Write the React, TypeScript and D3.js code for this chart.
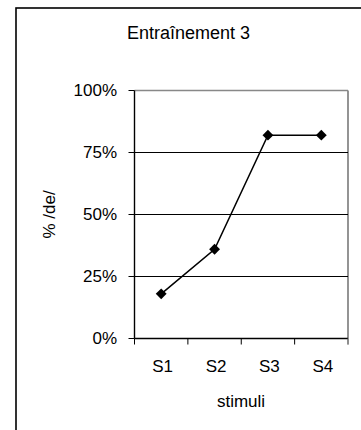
import React from "react";
import * as d3 from "d3";

const categories = ["S1", "S2", "S3", "S4"];
const values = [18, 36, 82, 82];
const yTicks = [0, 25, 50, 75, 100];
const title = "Entraînement 3";
const xTitle = "stimuli";
const yTitle = "% /de/";

export default function App() {
  const W = 361, H = 430;
  const left = 134.5, right = 348, top = 90.5, bottom = 338.5;
  const x = d3.scaleBand<string>().domain(categories).range([left, right]);
  const y = d3.scaleLinear().domain([0, 100]).range([bottom, top]);
  const line = d3
    .line<number>()
    .x((_, i) => (x(categories[i]) as number) + x.bandwidth() / 2)
    .y((d) => y(d));
  const diamond = d3.symbol().type(d3.symbolDiamond2).size(75)();
  const font = "Arial, 'Liberation Sans', sans-serif";
  const xEdges = [left, ...categories.map((c) => (x(c) as number) + x.bandwidth())];
  return (
    <svg
      width={W}
      height={H}
      style={{ position: "absolute", left: 0, top: 0, background: "#fff" }}
      fontFamily={font}
    >
      <rect x={16} y={8} width={400} height={500} fill="#fff" stroke="#000" strokeWidth={1.6} />
      <text x={188.5} y={39} fontSize={18} textAnchor="middle" fill="#000">
        {title}
      </text>
      <line x1={left} x2={right} y1={top} y2={top} stroke="#888" strokeWidth={1.6} />
      <line x1={right} x2={right} y1={top} y2={bottom + 6} stroke="#888" strokeWidth={1.8} />
      {yTicks
        .filter((t) => t > 0 && t < 100)
        .map((t) => (
          <line key={"g" + t} x1={left} x2={right} y1={y(t)} y2={y(t)} stroke="#000" strokeWidth={1} />
        ))}
      <line x1={left} x2={left} y1={top} y2={bottom} stroke="#000" strokeWidth={1.4} />
      {yTicks.map((t) => (
        <g key={"t" + t}>
          <line x1={left - 6} x2={left} y1={y(t)} y2={y(t)} stroke="#000" strokeWidth={1} />
          <text x={117} y={y(t)} dy="0.35em" fontSize={17} textAnchor="end" fill="#000">
            {t + "%"}
          </text>
        </g>
      ))}
      <line x1={left} x2={right} y1={bottom} y2={bottom} stroke="#000" strokeWidth={1.4} />
      {xEdges.map((e, i) => (
        <line key={"xt" + i} x1={e} x2={e} y1={bottom} y2={bottom + 6} stroke={i === xEdges.length - 1 ? "#888" : "#000"} strokeWidth={1} />
      ))}
      {categories.map((c) => (
        <text key={c} x={(x(c) as number) + x.bandwidth() / 2 + 1.5} y={371.5} fontSize={17} textAnchor="middle" fill="#000">
          {c}
        </text>
      ))}
      <text x={241} y={406.5} fontSize={17} textAnchor="middle" fill="#000">
        {xTitle}
      </text>
      <text
        transform={`translate(54.5,${(top + bottom) / 2}) rotate(-90)`}
        fontSize={17}
        textAnchor="middle"
        fill="#000"
      >
        {yTitle}
      </text>
      <path d={line(values) || ""} fill="none" stroke="#000" strokeWidth={1.5} />
      {values.map((v, i) => (
        <path
          key={"m" + i}
          d={diamond || ""}
          transform={`translate(${(x(categories[i]) as number) + x.bandwidth() / 2},${y(v)})`}
          fill="#000"
        />
      ))}
    </svg>
  );
}
